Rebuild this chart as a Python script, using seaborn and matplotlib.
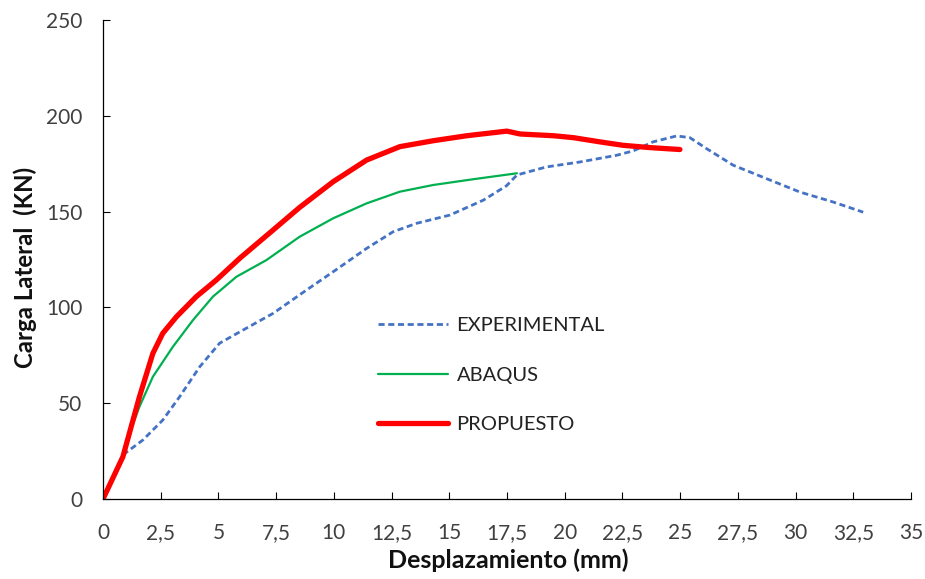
import numpy as np
import pandas as pd
import matplotlib
matplotlib.use("Agg")
import matplotlib.pyplot as plt
import seaborn as sns

# ---- data ----
exp_x = [0, 0.86, 1.73, 2.59, 3.32, 4.19, 5.05, 6.07, 7.37, 8.82, 9.97, 11.42, 12.57,
         13.59, 15.03, 16.48, 17.48, 17.93, 19.2, 20.66, 22.25, 22.97, 23.83, 24.85,
         25.42, 26.14, 27.3, 28.74, 30.19, 31.63, 32.93]
exp_y = [0, 23.0, 30.8, 41.2, 53.4, 69.0, 81.3, 88.2, 96.9, 109.1, 118.6, 130.8, 139.5,
         143.9, 148.2, 156.0, 163.5, 169.1, 173.3, 175.9, 179.4, 181.7, 186.4, 189.5,
         188.6, 182.9, 174.2, 167.2, 160.2, 155.0, 149.7]

aba_x = [0, 0.86, 1.15, 1.58, 2.16, 3.03, 3.90, 4.76, 5.78, 7.08, 8.52, 9.97, 11.42,
         12.86, 14.31, 16.04, 17.93]
aba_y = [0, 22.0, 34.3, 48.2, 63.8, 79.5, 93.4, 105.6, 116.0, 124.7, 136.9, 146.5, 154.3,
         160.4, 163.9, 166.9, 170.0]

pro_x = [0, 0.86, 1.58, 2.16, 2.59, 3.18, 4.04, 4.91, 5.92, 7.37, 8.52, 9.97, 11.42,
         12.86, 14.31, 15.76, 17.49, 18.07, 19.51, 20.37, 21.52, 22.53, 23.69, 24.99]
pro_y = [0, 22.0, 53.4, 76.0, 86.5, 95.1, 105.6, 114.3, 125.6, 140.4, 152.2, 165.6, 176.9,
         183.9, 187.0, 189.6, 192.0, 190.5, 189.6, 188.6, 186.4, 184.6, 183.4, 182.4]

x_ticks = [0, 2.5, 5, 7.5, 10, 12.5, 15, 17.5, 20, 22.5, 25, 27.5, 30, 32.5, 35]
x_tick_labels = ["0", "2,5", "5", "7,5", "10", "12,5", "15", "17,5", "20", "22,5",
                 "25", "27,5", "30", "32,5", "35"]
y_ticks = [0, 50, 100, 150, 200, 250]

sns.set_theme(style="white")
plt.rcParams['font.family'] = ['Lato', 'DejaVu Sans']

fig = plt.figure(figsize=(9.25, 5.79), dpi=100)
ax = fig.add_axes([103 / 925, 1 - 499 / 579, 808 / 925, 479 / 579])

df_exp = pd.DataFrame({"x": exp_x, "y": exp_y})
df_aba = pd.DataFrame({"x": aba_x, "y": aba_y})
df_pro = pd.DataFrame({"x": pro_x, "y": pro_y})

sns.lineplot(data=df_exp, x="x", y="y", ax=ax, color="#4472C4", linewidth=2.0,
             linestyle=(0, (2.2, 1.3)), sort=False, estimator=None, label="EXPERIMENTAL")
sns.lineplot(data=df_aba, x="x", y="y", ax=ax, color="#00B050", linewidth=1.6,
             sort=False, estimator=None, label="ABAQUS")
sns.lineplot(data=df_pro, x="x", y="y", ax=ax, color="#FF0000", linewidth=3.8,
             sort=False, estimator=None, label="PROPUESTO", solid_capstyle="round",
             solid_joinstyle="round")

ax.set_xlim(0, 35)
ax.set_ylim(0, 250)
ax.set_xticks(x_ticks)
ax.set_xticklabels(x_tick_labels)
ax.set_yticks(y_ticks)

for s in ["top", "right"]:
    ax.spines[s].set_visible(False)
for s in ["left", "bottom"]:
    ax.spines[s].set_color("#000000")
    ax.spines[s].set_linewidth(0.9)

ax.tick_params(axis="both", direction="in", length=5, width=0.8, colors="#000000",
               labelcolor="#404040", labelsize=15)
ax.tick_params(axis="x", pad=17, bottom=True)
ax.tick_params(axis="y", pad=15, left=True)

ax.set_xlabel("Desplazamiento (mm)", fontsize=18, fontweight="bold", color="#111111")
ax.set_ylabel("Carga Lateral  (KN)", fontsize=17.3, fontweight="bold", color="#111111")
ax.xaxis.set_label_coords((508 - 103) / 808, -(548 - 499) / 479)
ax.yaxis.set_label_coords(-(103 - 37) / 808, (499 - 267) / 479)

leg = ax.legend(loc="center left", bbox_to_anchor=((378 - 103) / 808, (499 - 375) / 479),
                frameon=False, fontsize=14.5, handlelength=3.5, handletextpad=0.4,
                labelspacing=1.6, borderpad=0, borderaxespad=0)
for t in leg.get_texts():
    t.set_color("#222222")

fig.savefig("out.png", dpi=100)
